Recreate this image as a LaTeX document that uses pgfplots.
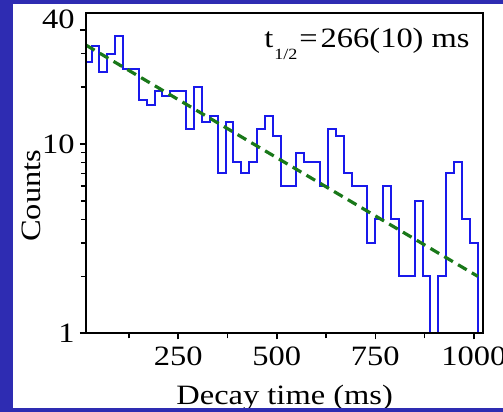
\documentclass[border=0pt]{standalone}
\usepackage{fontspec}
\setmainfont{Liberation Serif}[FakeStretch=1.16]
\usepackage{pgfplots}
\pgfplotsset{compat=1.18}

\definecolor{bgblue}{RGB}{46,44,178}
\definecolor{histblue}{RGB}{25,25,235}
\definecolor{fitgreen}{RGB}{25,120,25}

\begin{document}
\begin{tikzpicture}
% frame: picture is 503x412 px at 0.5pt per px
\useasboundingbox (-43pt,-39.35pt) rectangle (208.5pt,166.65pt);
\clip (-43pt,-39.35pt) rectangle (208.5pt,166.65pt);
\fill[bgblue] (-43pt,-39.35pt) rectangle (208.5pt,166.65pt);
\fill[white] (-36.35pt,-37.5pt) rectangle (208.5pt,164.65pt);

\begin{axis}[
    at={(0,0)}, anchor=south west,
    scale only axis,
    width=198.65pt, height=160.3pt,
    xmin=16, xmax=1024,
    ymode=log, ymin=1, ymax=49.4,
    axis on top,
    axis line style={line width=0.9pt},
    xtick={250,500,750,1000},
    minor xtick={125,375,625,875},
    ytick={1,10}, yticklabels={1,10},
    minor ytick={2,3,4,5,6,7,8,9,20,30},
    extra y ticks={40}, extra y tick labels={40},
    extra y tick style={yticklabel style={yshift=5.5pt}},
    xtick pos=bottom, ytick pos=left,
    tick align=outside,
    major tick length=3pt, minor tick length=2.5pt,
    every tick/.style={black, line width=0.8pt},
    /pgf/number format/1000 sep={},
    /pgf/number format/assume math mode=true,
    tick label style={font=\fontsize{14}{17}\selectfont},
    yticklabel style={inner sep=0pt, xshift=-2.5pt},
    xticklabel style={inner sep=0pt, yshift=-3.8pt},
    xlabel={Decay time (ms)},
    xlabel style={at={(axis description cs:0.5,0)}, anchor=base,
        yshift=-35.8pt, font=\fontsize{14}{17}\selectfont},
    ylabel={Counts},
    ylabel style={at={(axis description cs:-0.1133,0.4289)}, anchor=base,
        font=\fontsize{14}{17}\selectfont},
]
% decay-time histogram, 20 ms bins (left edge, counts)
\addplot[histblue, line width=1pt, const plot mark left] coordinates {
    (10,27) (30,33) (50,24) (70,30) (90,37) (110,25) (130,25) (150,17)
    (170,16) (190,19) (210,18) (230,19) (250,19) (270,12) (290,20) (310,13)
    (330,14) (350,7) (370,13) (390,8) (410,7) (430,8) (450,12) (470,14)
    (490,11) (510,6) (530,6) (550,9) (570,8) (590,8) (610,6) (630,12)
    (650,11) (670,7) (690,6) (710,6) (730,3) (750,4) (770,6) (790,4)
    (810,2) (830,2) (850,5) (870,2) (890,1) (910,2) (930,7) (950,8)
    (970,4) (990,3) (1010,1) (1030,1)
};
% exponential fit (straight on log scale)
\addplot[fitgreen, line width=1.6pt, dash pattern=on 5pt off 3pt] coordinates {
    (16,33.3) (1010,2.0)
};
\end{axis}

% half-life annotation
\node[anchor=base east, inner sep=0pt, font=\fontsize{14}{17}\selectfont]
    at (192pt,143pt)
    {t\kern0.5pt\raisebox{-6.3pt}{\fontsize{7.8}{9}\selectfont 1/2}\kern1pt=\kern1.5pt266(10) ms};

% bottom blue strip covers the label descenders
\fill[bgblue] (-43pt,-39.35pt) rectangle (208.5pt,-37.5pt);
\end{tikzpicture}
\end{document}
